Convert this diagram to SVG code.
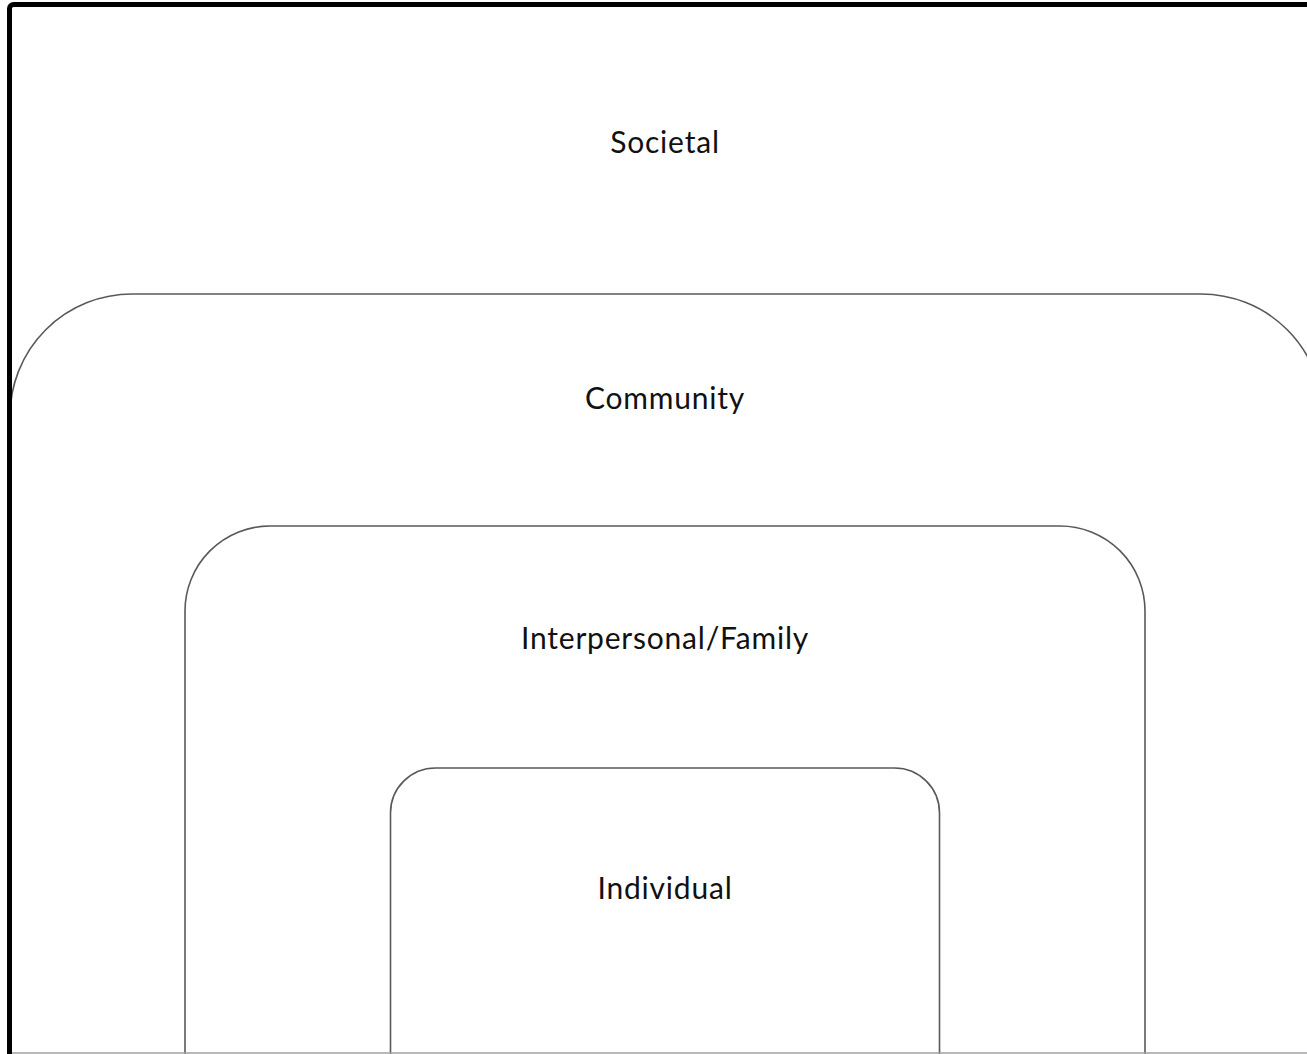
<svg xmlns="http://www.w3.org/2000/svg" width="1307" height="1054" viewBox="0 0 1307 1054">
<style>
.lvl{fill:none;stroke:#595959;stroke-width:1.6}
.lbl{font-family:Lato,"Noto Sans","Liberation Sans",sans-serif;font-size:30px;letter-spacing:0.8px;fill:#111111;text-anchor:middle}
</style>
<rect x="0" y="0" width="1307" height="1054" fill="#ffffff"/>
<g id="community">
<rect class="lvl" x="10" y="294" width="1313" height="900" rx="122"/>
<text class="lbl" x="665" y="409">Community</text>
</g>
<g id="interpersonal">
<rect class="lvl" x="185" y="526" width="960" height="700" rx="85"/>
<text class="lbl" x="665" y="649">Interpersonal/Family</text>
</g>
<g id="individual">
<rect class="lvl" x="390.5" y="768" width="549" height="500" rx="45"/>
<text class="lbl" x="665" y="899">Individual</text>
</g>
<g id="societal">
<rect x="9.5" y="4.5" width="1320" height="1100" rx="4" fill="none" stroke="#000000" stroke-width="5"/>
<text class="lbl" x="665" y="153">Societal</text>
</g>
<g id="connectors"></g>
<line x1="12" y1="1053" x2="1307" y2="1053" stroke="#a0a0a0" stroke-width="1.5"/>
</svg>
